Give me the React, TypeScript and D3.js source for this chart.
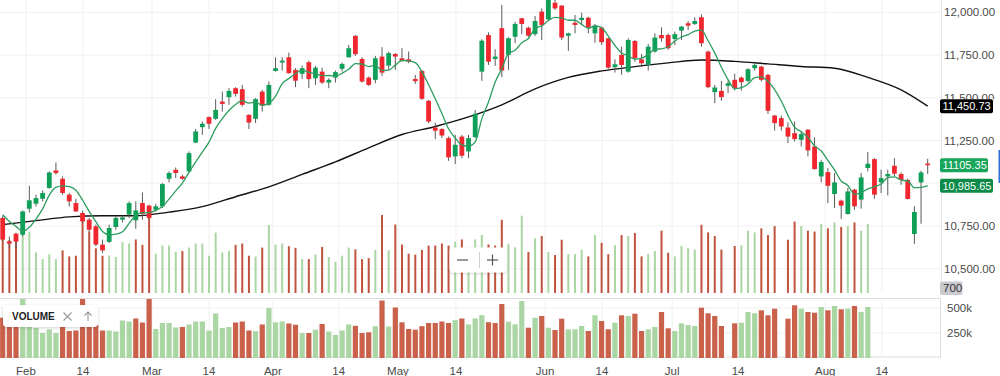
import React from "react";
import * as d3 from "d3";

// [open, high, low, close] per trading day
const candles: [number, number, number, number][] = [
  [10797,10810,10658,10670],[10660,10689,10622,10647],[10705,10711,10617,10658],[10699,10841,10689,10835],
  [10851,10985,10828,10900],[10880,10933,10864,10913],[10909,10958,10894,10943],[10972,11069,10968,11063],
  [11075,11122,11050,11060],[11026,11040,10933,10943],[10933,10943,10864,10894],[10884,10909,10832,10835],
  [10826,10839,10769,10777],[10787,10797,10718,10728],[10748,10758,10631,10641],[10641,10670,10592,10607],
  [10657,10758,10651,10738],[10744,10810,10728,10797],[10787,10810,10771,10800],[10816,10894,10797,10884],
  [10783,10894,10733,10841],[10884,10946,10787,10820],[10869,10874,10791,10797],[10845,10879,10835,10865],
  [10865,11001,10855,10995],[11026,11069,11005,11060],[11079,11092,11030,11060],[11040,11050,11020,11026],
  [11069,11186,11063,11176],[11238,11318,11235,11303],[11328,11361,11283,11348],[11387,11390,11318,11348],
  [11377,11492,11371,11429],[11478,11536,11419,11464],[11504,11556,11459,11540],[11556,11562,11507,11523],
  [11550,11575,11449,11459],[11400,11403,11317,11355],[11377,11498,11352,11492],[11536,11546,11419,11454],
  [11459,11595,11453,11575],[11657,11737,11653,11673],[11706,11737,11659,11717],[11737,11764,11640,11644],
  [11663,11673,11562,11600],[11640,11688,11610,11673],[11708,11716,11556,11609],[11614,11686,11575,11676],
  [11653,11676,11581,11589],[11589,11614,11556,11605],[11618,11659,11589,11650],[11669,11706,11653,11698],
  [11737,11809,11735,11790],[11862,11867,11745,11755],[11727,11737,11589,11595],[11618,11624,11570,11575],
  [11605,11745,11585,11731],[11741,11796,11628,11647],[11688,11770,11663,11761],[11756,11761,11663,11741],
  [11731,11790,11711,11716],[11725,11770,11702,11711],[11610,11634,11581,11597],[11657,11663,11488,11494],
  [11482,11488,11352,11361],[11326,11355,11258,11307],[11317,11322,11264,11279],[11264,11273,11131,11151],
  [11157,11283,11112,11225],[11273,11283,11147,11161],[11186,11283,11147,11264],[11270,11429,11264,11406],
  [11653,11842,11599,11834],[11867,11883,11692,11711],[11727,11784,11686,11741],[11907,12043,11620,11659],
  [11751,11854,11663,11848],[11857,11945,11819,11932],[11965,11967,11872,11932],[11910,11916,11857,11863],
  [11872,11978,11862,11949],[12004,12023,11838,11926],[11959,12101,11951,12089],[12056,12075,12013,12023],
  [12039,12043,11838,11852],[11863,11881,11774,11877],[11939,11984,11877,11926],[11955,11998,11926,11968],
  [11968,11974,11877,11910],[11877,11932,11822,11922],[11910,11916,11809,11825],[11848,11850,11669,11676],
  [11679,11725,11647,11696],[11751,11799,11634,11692],[11653,11848,11647,11838],[11832,11838,11711,11731],
  [11725,11756,11682,11702],[11692,11815,11659,11799],[11770,11877,11764,11852],[11867,11912,11828,11848],
  [11867,11877,11780,11790],[11844,11887,11809,11872],[11893,11920,11838,11916],[11936,11949,11897,11922],
  [11932,11971,11926,11949],[11971,11988,11799,11819],[11770,11776,11556,11562],[11533,11575,11468,11560],
  [11540,11599,11482,11504],[11570,11599,11527,11585],[11605,11640,11542,11556],[11618,11624,11542,11591],
  [11599,11673,11589,11667],[11673,11711,11659,11692],[11682,11688,11595,11605],[11634,11640,11406,11424],
  [11396,11400,11308,11352],[11381,11396,11308,11332],[11326,11357,11235,11273],[11293,11361,11244,11258],
  [11254,11303,11215,11287],[11313,11317,11157,11192],[11215,11268,11079,11083],[11040,11137,11005,11124],
  [11065,11089,10884,10985],[10937,11060,10855,11005],[10898,10904,10791,10869],[10820,10972,10816,10952],
  [10962,10968,10845,10865],[10904,11060,10851,11034],[11089,11182,11069,11114],[11141,11147,10909,10933],
  [11005,11079,10943,11030],[11040,11079,10929,11054],[11102,11147,11040,11056],[11054,11063,10991,11020],
  [11020,11026,10905,10907.9],[10703,10865,10645,10832],[11005,11073,10763,11063],[11115,11143,11054,11105.35],
];

// closes of the 4 sessions before the visible range (for the 5-day average)
const priorCloses = [10842, 10804, 10981, 10782];

// volume in thousands
const volumes = [
  403,390,378,590,452,300,250,285,250,315,270,275,590,455,330,275,275,265,375,365,
  395,355,590,290,350,350,305,310,335,365,365,275,445,300,310,355,365,275,268,335,
  500,357,365,345,333,250,250,283,340,265,230,275,335,322,250,257,318,575,315,505,
  357,290,283,318,350,350,365,350,378,395,335,395,428,358,350,540,363,337,570,303,
  403,420,303,280,393,287,287,320,270,427,370,287,353,427,420,443,270,287,310,460,
  297,270,347,330,320,503,447,420,320,0,347,353,460,447,477,427,493,0,393,527,
  493,460,453,510,477,520,487,493,520,460,510,
];
const volumeDir = [
  "ddd","uuuuuu","ddddddd","uuuu","ddd","uuuu","d","uuuuuuu","ddd","u","d","uuu","dd","u","d","u","d",
  "uuuu","ddd","u","d","u","ddddddddd","u","d","uuu","ddd","uuu","d","u","d","u","dd","uuu","d","u",
  "dd","u","d","u","dd","uu","dd","uuuu","dddd","u","d","uuu","dddd","dd","u","dd","u","d","u","d","u","d","uu",
].join("");

// 50-day average, read at every fifth session
const longMA: [number, number][] = [
  [0,10758],[5,10781],[10,10803],[15,10810],[20,10810],[25,10831],[30,10863],[35,10921],
  [40,10979],[45,11052],[50,11125],[55,11207],[60,11285],[65,11332],[70,11388],[75,11459],
  [80,11552],[85,11619],[90,11657],[95,11682],[100,11704],[105,11721],[110,11713],[115,11698],
  [120,11683],[125,11673],[130,11619],[135,11546],[139,11450.73],
];

const priceTicks = [10500, 10750, 11000, 11250, 11500, 11750, 12000];
const volumeTicks = [250, 500];
const dateTicks: { label: string; at: number }[] = [
  { label: "Feb", at: 3.5 }, { label: "14", at: 12.07 }, { label: "Mar", at: 22.43 }, { label: "14", at: 31.0 },
  { label: "Apr", at: 40.6 }, { label: "14", at: 50.5 }, { label: "May", at: 59.4 }, { label: "14", at: 68.1 },
  { label: "Jun", at: 81.5 }, { label: "14", at: 90.05 }, { label: "Jul", at: 100.6 }, { label: "14", at: 110.5 },
  { label: "Aug", at: 123.6 }, { label: "14", at: 132.1 },
];

const FONT = '"Helvetica Neue", Helvetica, Arial, "Liberation Sans", sans-serif';
const UP = "#0e9f58";
const DOWN = "#f0272e";
const VOL_UP = "#a9d6a2";
const VOL_DOWN = "#c9614b";
const VOL_DOWN_TOP = "#c0533e";

export default function App() {
  const W = 1000, H = 376;
  const paneRight = 941;
  const topBottom = 293;
  const x = d3.scaleLinear().domain([0, candles.length - 1]).range([2.7, 927.7]);
  const y = d3.scaleLinear().domain([10500, 12000]).range([268.7, 12.3]);
  const yVol = d3.scaleLinear().domain([0, 500]).range([358, 308]);
  const yVolTop = d3.scaleLinear().domain([0, 590]).range([topBottom, 213]);
  const fmt = d3.format(",.2f");

  const closes = candles.map((c) => c[3]);
  const all = [...priorCloses, ...closes];
  const shortMA = closes.map((_, i) => d3.mean(all.slice(i, i + 5)) as number);

  const shortLine = d3.line<number>().x((_, i) => x(i)).y((d) => y(d)).curve(d3.curveMonotoneX)(shortMA) || "";
  const longLine = d3.line<[number, number]>().x((d) => x(d[0])).y((d) => y(d[1])).curve(d3.curveMonotoneX)(longMA) || "";

  const bodyW = 4.8;
  const lastClose = closes[closes.length - 1];
  const lastShort = shortMA[shortMA.length - 1];
  const lastLong = longMA[longMA.length - 1][1];
  const badgeVals = [lastClose, lastShort, lastLong];

  // axis labels: hidden where a value badge covers them, cut where partly covered
  const labelState = (t: number) => {
    const d = Math.min(...badgeVals.map((b) => Math.abs(y(b) - y(t))));
    if (d < 5) return "hidden";
    if (d < 13) return "clipped";
    return "full";
  };

  const badge = (val: number, text: string, fill: string, w: number) => (
    <g>
      <rect x={940} y={y(val) - 7} width={w} height={14} rx={2} fill={fill} />
      <text x={942.5} y={y(val) + 4} fontSize={11} fill="#fff" fontFamily={FONT}>{text}</text>
    </g>
  );

  return (
    <div style={{ position: "absolute", left: 0, top: 0, width: W, height: H, background: "#fff" }}>
      <svg width={W} height={H} style={{ display: "block" }}>
        <defs>
          <clipPath id="topPane"><rect x={0} y={0} width={paneRight} height={topBottom} /></clipPath>
          <clipPath id="axisCut"><rect x={940} y={0} width={60} height={y(lastLong) - 7} /></clipPath>
          <filter id="shadow" x="-20%" y="-40%" width="140%" height="180%">
            <feDropShadow dx="0" dy="1" stdDeviation="1.5" floodColor="#000" floodOpacity="0.18" />
          </filter>
        </defs>
        <rect x={0} y={0} width={W} height={H} fill="#fff" />

        {/* grid */}
        {priceTicks.map((t) => (
          <line key={"pg" + t} x1={0} x2={paneRight} y1={y(t)} y2={y(t)} stroke="#f0f0f2" strokeWidth={1} />
        ))}
        {dateTicks.map((t, i) => (
          <g key={"dg" + i}>
            <line x1={x(t.at)} x2={x(t.at)} y1={0} y2={topBottom} stroke="#f0f0f2" />
            <line x1={x(t.at)} x2={x(t.at)} y1={299} y2={357} stroke="#f0f0f2" />
          </g>
        ))}
        {volumeTicks.map((t) => (
          <line key={"vg" + t} x1={0} x2={paneRight} y1={yVol(t)} y2={yVol(t)} stroke="#f0f0f2" />
        ))}

        {/* top pane */}
        <g clipPath="url(#topPane)">
          {volumes.map((v, i) =>
            v > 0 ? (
              <rect key={"tv" + i} x={x(i) - 1} y={yVolTop(v)} width={2} height={topBottom - yVolTop(v)}
                fill={volumeDir[i] === "u" ? VOL_UP : VOL_DOWN_TOP} />
            ) : null
          )}
          <path d={longLine} fill="none" stroke="#111" strokeWidth={1.4} />
          {candles.map(([o, h, l, c], i) => {
            const up = c >= o;
            const top = y(Math.max(o, c));
            const bot = y(Math.min(o, c));
            return (
              <g key={"c" + i}>
                <line x1={x(i)} x2={x(i)} y1={y(h)} y2={y(l)} stroke="#5b5b5b" strokeWidth={1} />
                <rect x={x(i) - bodyW / 2} y={top} width={bodyW} height={Math.max(bot - top, 1.5)} fill={up ? UP : DOWN} />
              </g>
            );
          })}
          <path d={shortLine} fill="none" stroke="#2c9d5f" strokeWidth={1.3} />
        </g>

        {/* bottom (volume) pane */}
        <rect x={-1} y={298.5} width={paneRight + 0.5} height={58.5} fill="none" stroke="#dcdce0" />
        {volumes.map((v, i) =>
          v > 0 ? (
            <rect key={"bv" + i} x={x(i) - 2.6} y={yVol(v)} width={5.2} height={358 - yVol(v)}
              fill={volumeDir[i] === "u" ? VOL_UP : VOL_DOWN} />
          ) : null
        )}
        <line x1={paneRight + 0.5} x2={paneRight + 0.5} y1={0} y2={topBottom} stroke="#e6e6ea" />

        {/* price axis */}
        {priceTicks.map((t) => {
          const s = labelState(t);
          if (s === "hidden") return null;
          return (
            <text key={"pt" + t} x={944} y={y(t) + 4} fontSize={11.5} fill="#4a4a4a" fontFamily={FONT}
              clipPath={s === "clipped" ? "url(#axisCut)" : undefined}>{fmt(t)}</text>
          );
        })}
        {badge(lastLong, fmt(lastLong), "#000", 53)}
        {badge(lastClose, lastClose.toFixed(2), "#16a55a", 48)}
        {badge(lastShort, fmt(lastShort), "#0b8a48", 53)}
        <rect x={940} y={281.5} width={22.5} height={13.5} rx={2} fill="#c9c9ce" />
        <text x={943} y={292} fontSize={11.5} fill="#333" fontFamily={FONT}>700</text>
        <rect x={998.5} y={150} width={1.5} height={33} fill="#2f6fd6" />

        {/* volume axis */}
        {volumeTicks.map((t) => (
          <text key={"vt" + t} x={947} y={yVol(t) + 4} fontSize={11.5} fill="#4a4a4a" fontFamily={FONT}>{t}k</text>
        ))}

        {/* date axis */}
        {dateTicks.map((t, i) => (
          <text key={"dt" + i} x={x(t.at)} y={374.5} textAnchor="middle" fontSize={11.5} fill="#4a4a4a" fontFamily={FONT}>{t.label}</text>
        ))}

        {/* zoom control */}
        <g filter="url(#shadow)">
          <rect x={449.5} y={247.5} width={57} height={25} rx={4} fill="#fff" />
        </g>
        <line x1={479.5} x2={479.5} y1={252} y2={268} stroke="#d0d0d4" />
        <line x1={457} x2={468} y1={260} y2={260} stroke="#555" strokeWidth={1.2} />
        <line x1={487} x2={498} y1={260} y2={260} stroke="#555" strokeWidth={1.2} />
        <line x1={492.5} x2={492.5} y1={254.5} y2={265.5} stroke="#555" strokeWidth={1.2} />

        {/* volume legend */}
        <g filter="url(#shadow)">
          <rect x={3} y={305} width={95} height={22} rx={4} fill="#fff" />
        </g>
        <text x={12} y={320} fontSize={10} fontWeight={600} fill="#222" fontFamily={FONT}>VOLUME</text>
        <line x1={63.5} x2={71.5} y1={312.5} y2={320.5} stroke="#999" strokeWidth={1.1} />
        <line x1={71.5} x2={63.5} y1={312.5} y2={320.5} stroke="#999" strokeWidth={1.1} />
        <line x1={88} x2={88} y1={312} y2={321} stroke="#999" strokeWidth={1.1} />
        <polyline points="84.5,315.5 88,312 91.5,315.5" fill="none" stroke="#999" strokeWidth={1.1} />
      </svg>
    </div>
  );
}
